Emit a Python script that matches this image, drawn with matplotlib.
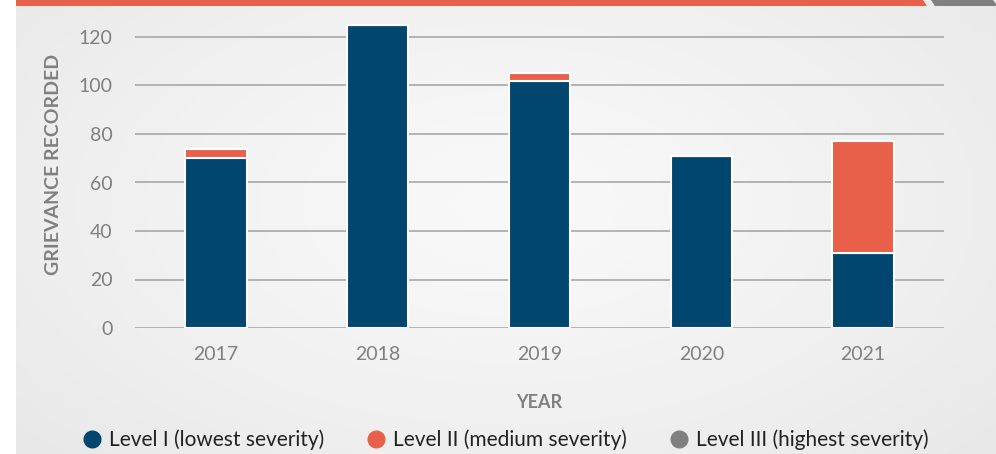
import matplotlib
matplotlib.use("Agg")
import matplotlib.pyplot as plt
import numpy as np
from matplotlib.patches import Polygon
from matplotlib.lines import Line2D

years = ["2017", "2018", "2019", "2020", "2021"]
level1 = [70, 125, 102, 71, 31]
level2 = [4, 0, 3, 0, 46]
level3 = [0, 0, 0, 0, 0]
series_names = ["Level I (lowest severity)", "Level II (medium severity)", "Level III (highest severity)"]
colors = ["#00466F", "#E9604A", "#808080"]
yticks = [0, 20, 40, 60, 80, 100, 120]

plt.rcParams['font.family'] = ['Lato', 'DejaVu Sans']

W, H = 996, 454
fig = plt.figure(figsize=(W / 100, H / 100), dpi=100)
fig.patch.set_facecolor("white")

# background panel with radial gradient
bg = fig.add_axes([16 / W, 0, (W - 16) / W, 1])
bg.set_axis_off()
yy, xx = np.mgrid[0:1:200j, 0:1:400j]
r = np.sqrt(((xx - 0.5) / 0.75) ** 2 + ((yy - 0.55) / 0.9) ** 2)
r = np.clip(r, 0, 1)
v = 0.975 - 0.075 * r ** 1.3
img = np.dstack([v, v, v])
bg.imshow(img, extent=[0, 1, 0, 1], aspect="auto", origin="lower")
bg.set_xlim(0, 1)
bg.set_ylim(0, 1)

def px(x, y):
    return (x / W, 1 - y / H)

fig.patches.append(Polygon([px(16, 0), px(923, 0), px(927, 6), px(16, 6)],
                           closed=True, transform=fig.transFigure, facecolor="#E9604A", edgecolor="none", zorder=5))
fig.patches.append(Polygon([px(931, 0), px(993, 0), px(996, 4), px(996, 6), px(935, 6)],
                           closed=True, transform=fig.transFigure, facecolor="#808080", edgecolor="none", zorder=5))

ax = fig.add_axes([135 / W, (H - 328) / H, 809 / W, 135 * 2.425 / H])
ax.set_facecolor("none")
x = np.arange(len(years))
width = 0.38
bottom = np.zeros(len(years))
for vals, c, name in zip([level1, level2, level3], colors, series_names):
    ax.bar(x, vals, width, bottom=bottom, color=c, edgecolor="white", linewidth=1.5, zorder=3, label=name)
    bottom = bottom + np.array(vals)

ax.set_xlim(-0.5, len(years) - 0.5)
ax.set_ylim(0, 135)
ax.set_yticks(yticks)
ax.set_xticks(x)
ax.set_xticklabels(years)
for s in ax.spines.values():
    s.set_visible(False)
for t in yticks:
    ax.axhline(t, color="#ADADAD", linewidth=1.3, zorder=1)
ax.tick_params(axis="both", length=0, colors="#808080", labelsize=14)
ax.tick_params(axis="y", pad=16)
ax.tick_params(axis="x", pad=13)
ax.set_ylabel("GRIEVANCE RECORDED", fontsize=14, fontweight="bold", color="#808080", labelpad=12)
ax.set_xlabel("YEAR", fontsize=13, fontweight="bold", color="#808080", labelpad=22)

handles = [Line2D([0], [0], marker="o", linestyle="none", markersize=12, markerfacecolor=c, markeredgecolor=c)
           for c in colors]
fig.legend(handles, series_names, loc="center", bbox_to_anchor=(0.507, 1 - 440 / H), ncol=3, frameon=False,
           fontsize=15, labelcolor="#222222", handletextpad=0.3, columnspacing=2.0, handlelength=1.0)

fig.savefig("out.png", dpi=100)
